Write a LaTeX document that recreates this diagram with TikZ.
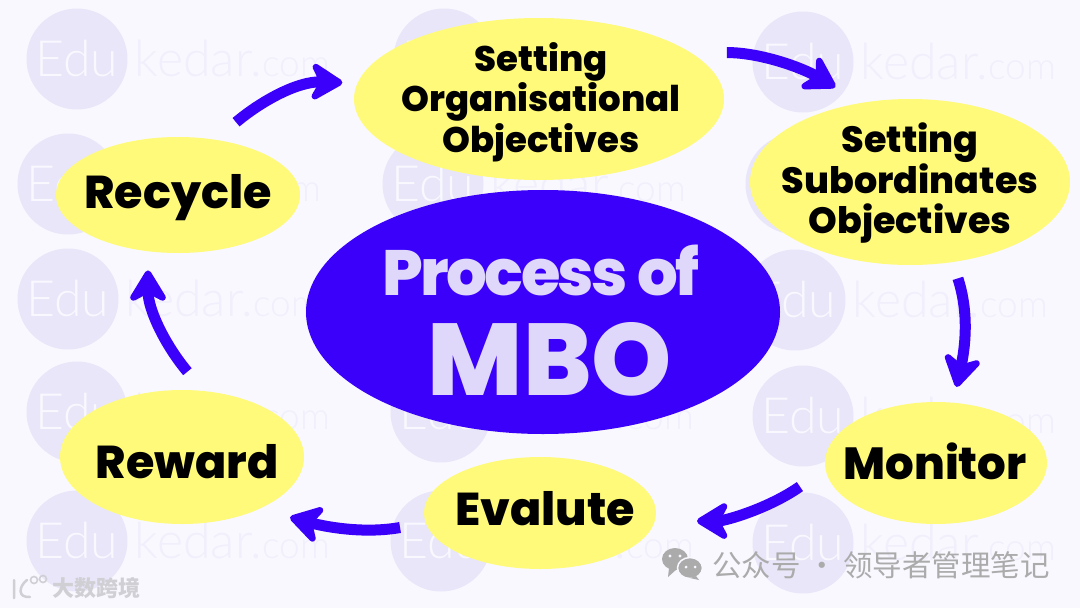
\documentclass[tikz,border=0pt]{standalone}
\usepackage{fontspec}
\setmainfont{Poppins}
\newfontfamily\heavyfont{Poppins ExtraBold}
\newfontfamily\titlefont[LetterSpace=-4]{Poppins ExtraBold}
\newfontfamily\wmfont{Lato Light}
\newfontfamily\cjk{Noto Sans CJK SC}
\usetikzlibrary{positioning,arrows.meta,shapes.geometric}
\definecolor{pagebg}{HTML}{F9F8FF}
\definecolor{wmdisk}{HTML}{E8E6F8}
\definecolor{wmword}{HTML}{F0EFFB}
\definecolor{stepyellow}{HTML}{FFFA7A}
\definecolor{mboblue}{HTML}{3A00FA}
\definecolor{mbotext}{HTML}{DFD8FA}
\definecolor{markgray}{HTML}{ABABAB}
\definecolor{marklight}{HTML}{CFCFD4}
\tikzset{
	wmdisc/.style={circle, fill=wmdisk, text=pagebg, minimum size=101pt, inner sep=0pt, font=\wmfont\fontsize{50}{50}\selectfont},
	wmtext/.style={text=wmword, inner sep=0pt, font=\wmfont\fontsize{50}{50}\selectfont},
	stepnode/.style={ellipse, fill=stepyellow, inner sep=0pt},
	steptext/.style={inner sep=0pt, align=center, text=black, font=\heavyfont\fontsize{36.5}{40.5}\selectfont},
	bigtext/.style={inner sep=0pt, text=black, font=\heavyfont\fontsize{46}{46}\selectfont},
	mbotitle/.style={inner sep=0pt, anchor=base, text=mbotext},
	flow/.style={draw=mboblue, line width=11pt, -{Stealth[length=38pt,width=46pt,inset=12pt,round]}},
}
\begin{document}
\begin{tikzpicture}[x=1pt, y=1pt]
	\useasboundingbox[fill=pagebg] (0,-608) rectangle (1080,0);

	\foreach \n/\x/\y in {a/77/59, b/68/184, c/68/299, d/77/412, e/77/541, f/444/59, g/433/184, h/441/412, i/441/541, j/803/62, k/796/184, l/795/300, m/803/416, n/803/543} {
		\node[wmdisc] (disc\n) at (\x,-\y) {Edu};
		\node[wmtext, right=7pt of disc\n] (word\n) {kedar.{\fontsize{37}{37}\selectfont com}};
	}

	\node[ellipse, fill=mboblue, minimum width=474pt, minimum height=244pt, inner sep=0pt] (mbo) at (543,-312) {};
	\node[mbotitle, font=\titlefont\fontsize{64}{64}\selectfont] (mbotop) at (541,-295) {Process of};
	\node[mbotitle, font=\heavyfont\fontsize{102}{102}\selectfont] (mbolow) at (550,-395) {MBO};

	\node[stepnode, minimum width=370pt, minimum height=162pt] (setorg) at (539,-99) {};
	\node[stepnode, minimum width=320pt, minimum height=166pt] (setsub) at (910,-182) {};
	\node[stepnode, minimum width=222pt, minimum height=122pt] (monitor) at (936,-463) {};
	\node[stepnode, minimum width=232pt, minimum height=112pt] (evalute) at (540,-513) {};
	\node[stepnode, minimum width=244pt, minimum height=134pt] (reward) at (182,-457) {};
	\node[stepnode, minimum width=244pt, minimum height=116pt] (recycle) at (178,-195) {};

	\node[steptext, font=\heavyfont\fontsize{35.5}{40.5}\selectfont] (setorgtext) at (541,-102) {Setting\\Organisational\\Objectives};
	\node[steptext] (setsubtext) at (910,-183.5) {Setting\\Subordinates\\Objectives};
	\node[bigtext, font=\heavyfont\fontsize{45}{45}\selectfont] (monitortext) at (935,-461) {Monitor};
	\node[bigtext] (evalutetext) at (545,-509) {Evalute};
	\node[bigtext] (rewardtext) at (187,-462) {Reward};
	\node[bigtext] (recycletext) at (178,-198) {Recycle};

	\draw[flow, shorten <=27pt, shorten >=15pt] (recycle.56) to[out=40, in=178] (setorg.175);
	\draw[flow, shorten <=36pt, shorten >=31pt] (setorg.17) to[out=0, in=150] (setsub.121);
	\draw[flow, shorten <=17pt, shorten >=16pt] (setsub.-62) to[out=-72, in=78] (monitor.74);
	\draw[flow, shorten <=31pt, shorten >=42pt] (monitor.183) to[out=-145, in=0] (evalute.-4);
	\draw[flow, shorten <=26pt, shorten >=32pt] (evalute.185) to[out=190, in=-15] (reward.-34);
	\draw[flow, shorten <=25pt, shorten >=19pt] (reward.72) to[out=130, in=-90] (recycle.-118);

	% marks in the corners
	\fill[markgray] (675,-559) ellipse (13pt and 11pt);
	\fill[markgray] (669,-568) -- (668,-577) -- (677,-569) -- cycle;
	\draw[pagebg, line width=1.5pt, fill=markgray] (690,-568) ellipse (12.5pt and 10.5pt);
	\fill[markgray] (696,-576) -- (699,-580) -- (690,-578) -- cycle;
	\fill[pagebg] (670,-556) circle (1.7pt) (680,-556) circle (1.7pt) (686,-567) circle (1.5pt) (695,-567) circle (1.5pt);
	\node[text=markgray, inner sep=0pt, anchor=west, font=\cjk\fontsize{29.5}{29.5}\selectfont] (markname) at (712,-565) {公众号 · 领导者管理笔记};
	\draw[marklight, line width=2.5pt, line cap=round] (14,-580) -- (14,-598) (27,-580) .. controls (18,-587) and (18,-598) .. (30,-597);
	\draw[marklight, line width=1.6pt] (34,-580) circle (3.5pt) (43,-579) circle (3.5pt);
	\node[text=marklight, inner sep=0pt, anchor=west, font=\cjk\bfseries\fontsize{22}{22}\selectfont] (markcn) at (52,-588) {大数跨境};
\end{tikzpicture}
\end{document}
